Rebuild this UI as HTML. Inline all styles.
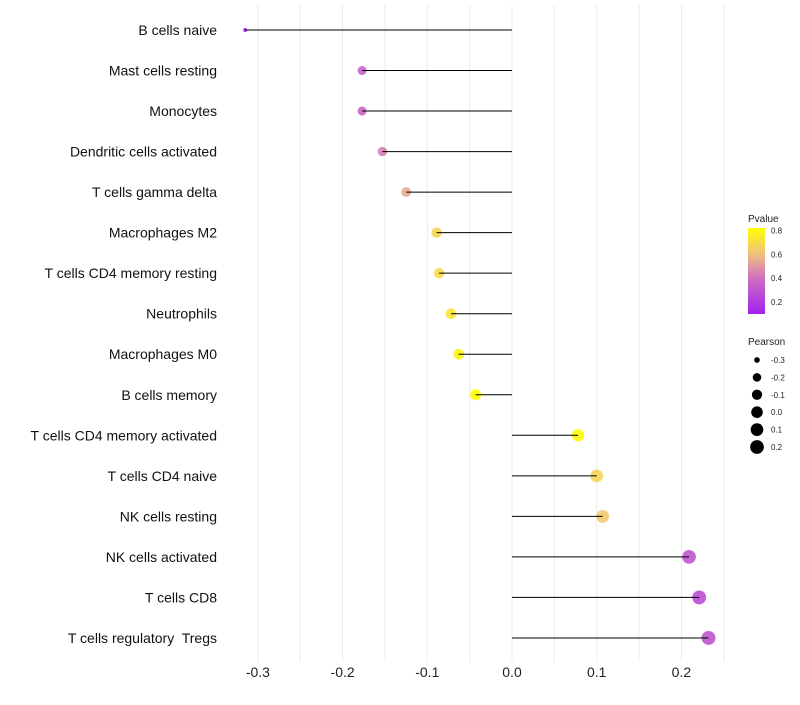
<!DOCTYPE html>
<html><head><meta charset="utf-8"><style>
body{margin:0;background:#fff;font-family:"Liberation Sans",sans-serif}
svg text{font-family:"Liberation Sans",sans-serif;white-space:pre}
</style></head><body>
<svg id="chart" width="800" height="700"></svg>
<script>
const categories=["B cells naive","Mast cells resting","Monocytes","Dendritic cells activated","T cells gamma delta","Macrophages M2","T cells CD4 memory resting","Neutrophils","Macrophages M0","B cells memory","T cells CD4 memory activated","T cells CD4 naive","NK cells resting","NK cells activated","T cells CD8","T cells regulatory  Tregs"];
const pearson=[-0.315,-0.177,-0.177,-0.153,-0.125,-0.089,-0.086,-0.072,-0.063,-0.043,0.078,0.100,0.107,0.209,0.221,0.232];
const pvalue=[0.1,0.36,0.36,0.44,0.55,0.67,0.69,0.73,0.78,0.84,0.8,0.67,0.63,0.3,0.27,0.3];
const xTicks=[-0.3,-0.2,-0.1,0.0,0.1,0.2];
const pTicks=[0.2,0.4,0.6,0.8];
const sizeTicks=[-0.3,-0.2,-0.1,0.0,0.1,0.2];
const NS="http://www.w3.org/2000/svg";
const svg=document.getElementById("chart");
function x(v){return 512+v*847;}
function y(i){return 30+i*40.53;}
function r(v){return 2+Math.sqrt(Math.max(0,(v+0.315)/0.55))*5;}
const stops=[[0.1,[160,32,240]],[0.4,[208,112,192]],[0.6,[240,192,128]],[0.82,[255,255,0]]];
function col(p){p=Math.max(0.1,Math.min(0.82,p));for(let k=0;k<stops.length-1;k++){const a=stops[k],b=stops[k+1];if(p<=b[0]){const t=(p-a[0])/(b[0]-a[0]);const c=a[1].map((u,j)=>Math.round(u+(b[1][j]-u)*t));return`rgb(${c})`;}}return"rgb(255,255,0)";}
function el(t,a,parent){const e=document.createElementNS(NS,t);for(const k in a)e.setAttribute(k,a[k]);(parent||svg).appendChild(e);return e;}
for(let v=-0.3;v<=0.2501;v+=0.05){const g=el("line",{x1:x(v),x2:x(v),y1:5,y2:662,stroke:"#ebebeb","stroke-width":1});

}
xTicks.forEach(t=>{const e=el("text",{x:x(t),y:677,"text-anchor":"middle","font-size":14,fill:"#222"});e.textContent=t.toFixed(1);

});
categories.forEach((c,i)=>{
const l=el("text",{x:217,y:y(i)+5,"text-anchor":"end","font-size":14,fill:"#111"});l.textContent=c;


const s=el("line",{x1:x(0),x2:x(pearson[i]),y1:y(i),y2:y(i),stroke:"#000","stroke-width":1});


const d=el("circle",{cx:x(pearson[i]),cy:y(i),r:r(pearson[i]),fill:col(pvalue[i]),"fill-opacity":0.9});


const s2=el("line",{x1:x(pearson[i]),x2:x(pearson[i])+(pearson[i]<0?r(pearson[i]):-r(pearson[i])),y1:y(i),y2:y(i),stroke:"#000","stroke-width":1});


});
const defs=el("defs",{});const lg=el("linearGradient",{id:"pg",x1:0,y1:1,x2:0,y2:0},defs);
stops.forEach(s=>el("stop",{offset:((s[0]-0.1)/0.72),"stop-color":col(s[0])},lg));
const pt=el("text",{x:748,y:222,"font-size":10,fill:"#222"});pt.textContent="Pvalue";


const bar=el("rect",{x:748,y:228,width:17,height:86,fill:"url(#pg)"});


function py(p){return 314-(p-0.1)/0.72*86;}
pTicks.forEach(p=>{const t=el("text",{x:771,y:py(p)+3,"font-size":8,fill:"#222"});t.textContent=p.toFixed(1);

});
const st=el("text",{x:748,y:345,"font-size":10,fill:"#222"});st.textContent="Pearson";


sizeTicks.forEach((s,k)=>{const cy=360+k*17.4;
const c=el("circle",{cx:757,cy:cy,r:r(s),fill:"#000"});


const t=el("text",{x:771,y:cy+3,"font-size":8,fill:"#222"});t.textContent=s.toFixed(1);

});
</script>
</body></html>
